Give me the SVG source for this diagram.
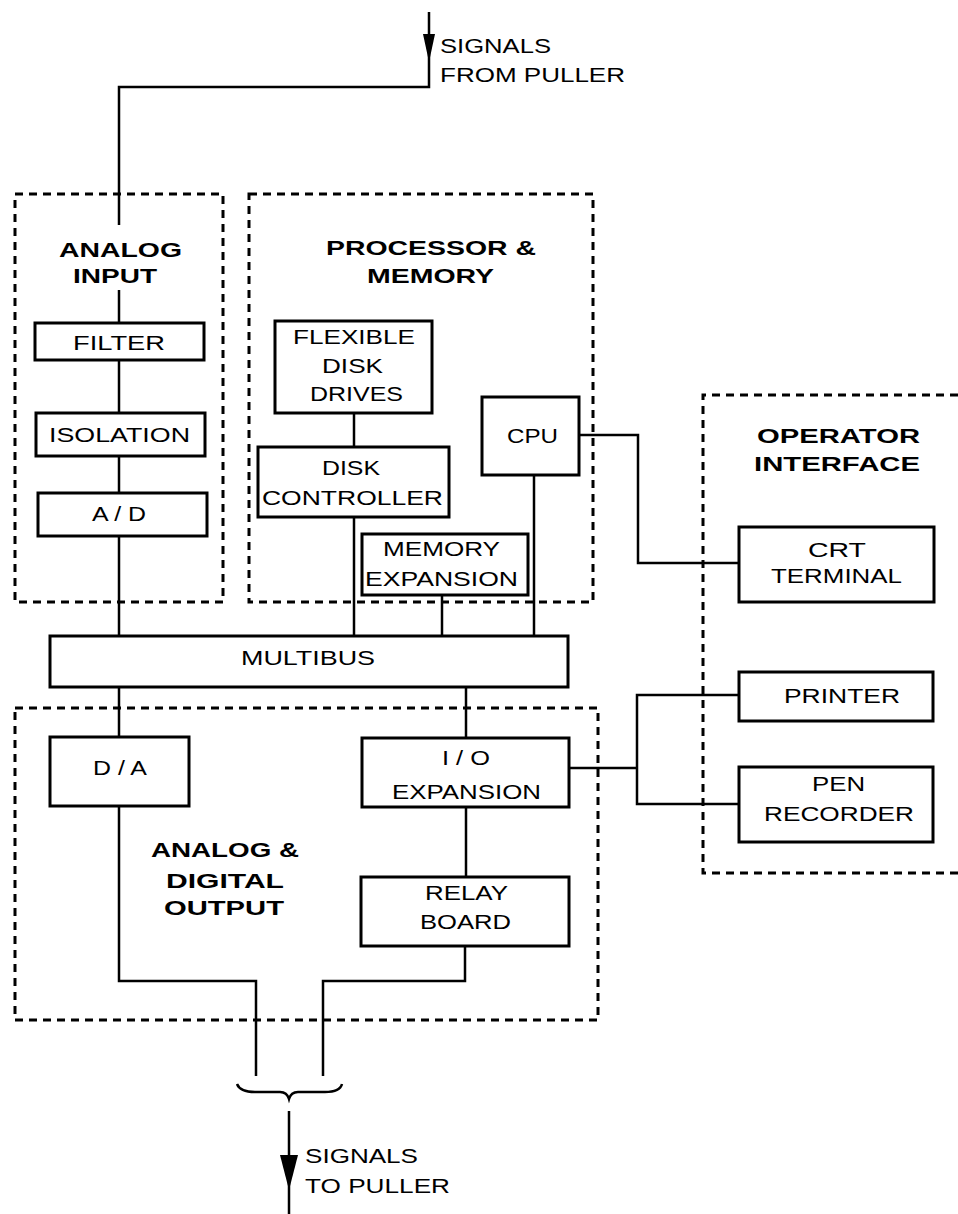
<svg xmlns="http://www.w3.org/2000/svg" width="958" height="1214" viewBox="0 0 958 1214">
<style>
.bg{fill:#fff}
.box{fill:#fff;stroke:#000;stroke-width:3}
.grp{fill:none;stroke:#000;stroke-width:3;stroke-dasharray:8 6}
.ln{fill:none;stroke:#000;stroke-width:2.5}
.ah{fill:#000;stroke:none}
.t{font-family:"Liberation Sans",Arial,sans-serif;font-size:21px;fill:#000}
.b{font-family:"Liberation Sans",Arial,sans-serif;font-size:20px;font-weight:bold;fill:#000}
</style>
<rect class="bg" x="0" y="0" width="958" height="1214"/>

<g id="connectors">
  <path class="ln" d="M429,12 V87 H119 V225"/>
  <polygon class="ah" points="423,34 435,34 429,62"/>
  <path class="ln" d="M119,290 V323"/>
  <path class="ln" d="M119,360 V413"/>
  <path class="ln" d="M119,456 V493"/>
  <path class="ln" d="M119,536 V636"/>
  <path class="ln" d="M354,413 V447"/>
  <path class="ln" d="M354,517 V636"/>
  <path class="ln" d="M442,595 V636"/>
  <path class="ln" d="M534,475 V636"/>
  <path class="ln" d="M579,435 H638 V563 H739"/>
  <path class="ln" d="M119,687 V737"/>
  <path class="ln" d="M466,687 V738"/>
  <path class="ln" d="M466,807 V877"/>
  <path class="ln" d="M569,768 H637"/>
  <path class="ln" d="M739,695 H637 V804 H739"/>
  <path class="ln" d="M119,806 V981 H256 V1076"/>
  <path class="ln" d="M465,946 V981 H323 V1076"/>
  <path class="ln" d="M237,1084 Q240,1092 255,1092 L280,1092 Q287,1092 289,1099 Q291,1092 298,1092 L325,1092 Q340,1092 342,1084"/>
  <path class="ln" d="M289,1111 V1214"/>
  <polygon class="ah" points="280,1155 298,1155 289,1190"/>
  <text class="t" x="440" y="53" textLength="111" lengthAdjust="spacingAndGlyphs">SIGNALS</text>
  <text class="t" x="440" y="82" textLength="185" lengthAdjust="spacingAndGlyphs">FROM PULLER</text>
  <text class="t" x="305" y="1163" textLength="113" lengthAdjust="spacingAndGlyphs">SIGNALS</text>
  <text class="t" x="305" y="1193" textLength="145" lengthAdjust="spacingAndGlyphs">TO PULLER</text>
</g>

<g id="analog-input">
  <rect class="grp" x="15" y="194" width="208" height="408"/>
  <text class="b" x="59" y="257" textLength="123" lengthAdjust="spacingAndGlyphs">ANALOG</text>
  <text class="b" x="73" y="283" textLength="84" lengthAdjust="spacingAndGlyphs">INPUT</text>
</g>
<g id="filter">
  <rect class="box" x="35" y="323" width="169" height="37"/>
  <text class="t" x="73" y="350" textLength="92" lengthAdjust="spacingAndGlyphs">FILTER</text>
</g>
<g id="isolation">
  <rect class="box" x="36" y="413" width="169" height="43"/>
  <text class="t" x="49" y="442" textLength="141" lengthAdjust="spacingAndGlyphs">ISOLATION</text>
</g>
<g id="ad">
  <rect class="box" x="38" y="493" width="169" height="43"/>
  <text class="t" x="92" y="521" textLength="54" lengthAdjust="spacingAndGlyphs">A / D</text>
</g>

<g id="processor-memory">
  <rect class="grp" x="249" y="194" width="344" height="408"/>
  <text class="b" x="326" y="255" textLength="210" lengthAdjust="spacingAndGlyphs">PROCESSOR &amp;</text>
  <text class="b" x="367" y="283" textLength="127" lengthAdjust="spacingAndGlyphs">MEMORY</text>
</g>
<g id="flexible-disk-drives">
  <rect class="box" x="275" y="321" width="157" height="92"/>
  <text class="t" x="293" y="344" textLength="122" lengthAdjust="spacingAndGlyphs">FLEXIBLE</text>
  <text class="t" x="322" y="373" textLength="61" lengthAdjust="spacingAndGlyphs">DISK</text>
  <text class="t" x="310" y="401" textLength="93" lengthAdjust="spacingAndGlyphs">DRIVES</text>
</g>
<g id="disk-controller">
  <rect class="box" x="258" y="447" width="191" height="70"/>
  <text class="t" x="322" y="475" textLength="58" lengthAdjust="spacingAndGlyphs">DISK</text>
  <text class="t" x="262" y="505" textLength="181" lengthAdjust="spacingAndGlyphs">CONTROLLER</text>
</g>
<g id="cpu">
  <rect class="box" x="482" y="397" width="97" height="78"/>
  <text class="t" x="507" y="443" textLength="51" lengthAdjust="spacingAndGlyphs">CPU</text>
</g>
<g id="memory-expansion">
  <rect class="box" x="362" y="534" width="166" height="61"/>
  <text class="t" x="383" y="556" textLength="117" lengthAdjust="spacingAndGlyphs">MEMORY</text>
  <text class="t" x="365" y="586" textLength="153" lengthAdjust="spacingAndGlyphs">EXPANSION</text>
</g>

<g id="multibus">
  <rect class="box" x="50" y="636" width="518" height="51"/>
  <text class="t" x="241" y="665" textLength="134" lengthAdjust="spacingAndGlyphs">MULTIBUS</text>
</g>

<g id="analog-digital-output">
  <rect class="grp" x="15" y="708" width="583" height="312"/>
  <text class="b" x="151" y="857" textLength="148" lengthAdjust="spacingAndGlyphs">ANALOG &amp;</text>
  <text class="b" x="166" y="888" textLength="118" lengthAdjust="spacingAndGlyphs">DIGITAL</text>
  <text class="b" x="164" y="915" textLength="120" lengthAdjust="spacingAndGlyphs">OUTPUT</text>
</g>
<g id="da">
  <rect class="box" x="50" y="737" width="139" height="69"/>
  <text class="t" x="93" y="775" textLength="54" lengthAdjust="spacingAndGlyphs">D / A</text>
</g>
<g id="io-expansion">
  <rect class="box" x="362" y="738" width="207" height="69"/>
  <text class="t" x="442" y="765" textLength="48" lengthAdjust="spacingAndGlyphs">I / O</text>
  <text class="t" x="392" y="799" textLength="149" lengthAdjust="spacingAndGlyphs">EXPANSION</text>
</g>
<g id="relay-board">
  <rect class="box" x="361" y="877" width="208" height="69"/>
  <text class="t" x="425" y="900" textLength="83" lengthAdjust="spacingAndGlyphs">RELAY</text>
  <text class="t" x="420" y="929" textLength="91" lengthAdjust="spacingAndGlyphs">BOARD</text>
</g>

<g id="operator-interface">
  <path class="grp" d="M958,395 H703 V873 H958"/>
  <text class="b" x="757" y="443" textLength="163" lengthAdjust="spacingAndGlyphs">OPERATOR</text>
  <text class="b" x="754" y="471" textLength="166" lengthAdjust="spacingAndGlyphs">INTERFACE</text>
</g>
<g id="crt-terminal">
  <rect class="box" x="739" y="527" width="195" height="75"/>
  <text class="t" x="808" y="557" textLength="58" lengthAdjust="spacingAndGlyphs">CRT</text>
  <text class="t" x="771" y="583" textLength="131" lengthAdjust="spacingAndGlyphs">TERMINAL</text>
</g>
<g id="printer">
  <rect class="box" x="739" y="672" width="194" height="49"/>
  <text class="t" x="784" y="703" textLength="116" lengthAdjust="spacingAndGlyphs">PRINTER</text>
</g>
<g id="pen-recorder">
  <rect class="box" x="739" y="767" width="194" height="75"/>
  <text class="t" x="812" y="791" textLength="53" lengthAdjust="spacingAndGlyphs">PEN</text>
  <text class="t" x="764" y="821" textLength="150" lengthAdjust="spacingAndGlyphs">RECORDER</text>
</g>
</svg>
